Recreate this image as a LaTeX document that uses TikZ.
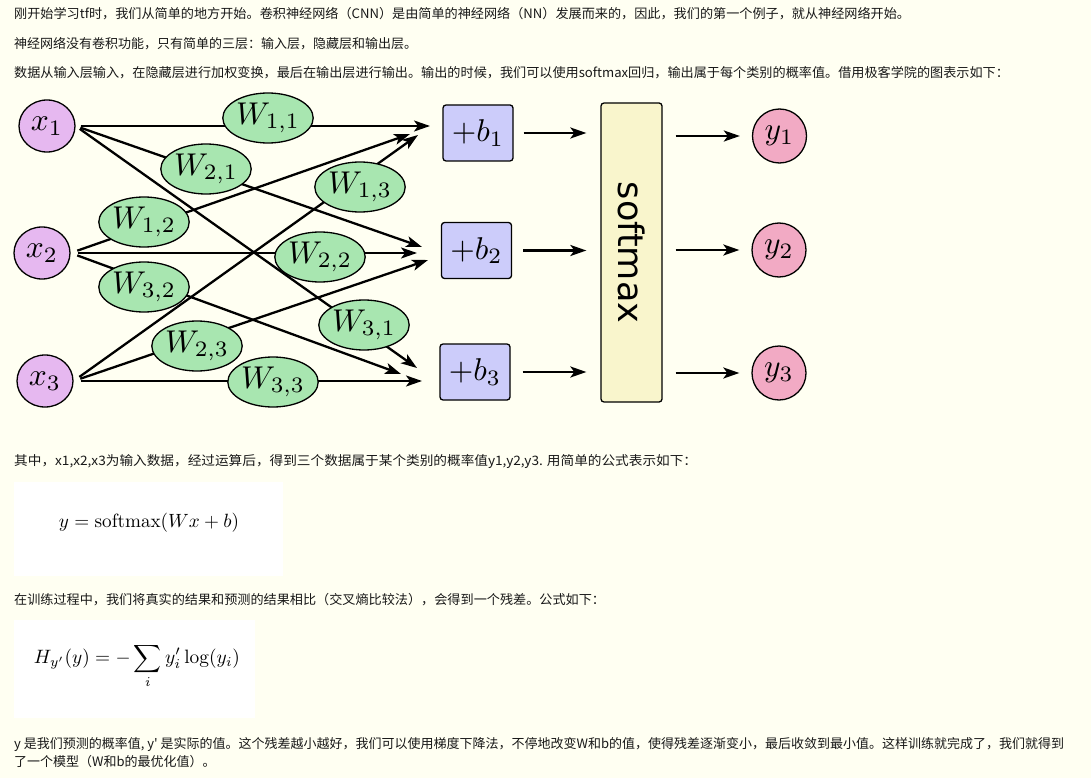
\documentclass[tikz,border=0pt]{standalone}
\usepackage{amsmath}
\usepackage{fontspec}
\usetikzlibrary{arrows.meta,shapes.geometric}
\newfontfamily\cjk{Noto Sans CJK SC}
\newfontfamily\dejavu{DejaVu Sans}
\newcommand{\mlbl}[1]{\scalebox{3.15}{$#1$}}
\definecolor{bg}{RGB}{255,255,242}
\definecolor{xfill}{RGB}{230,184,240}
\definecolor{wfill}{RGB}{168,230,176}
\definecolor{bfill}{RGB}{204,204,250}
\definecolor{sfill}{RGB}{249,245,204}
\definecolor{yfill}{RGB}{242,170,196}
\definecolor{txt}{RGB}{24,24,24}
\tikzset{
  txtline/.style={anchor=west, inner sep=0pt, text=txt, font=\cjk\fontsize{13}{15}\selectfont},
  xnode/.style={ellipse, draw, line width=1.3pt, fill=xfill, minimum width=56pt, minimum height=52pt, inner sep=0pt},
  wnode/.style={ellipse, draw, line width=1.3pt, fill=wfill, minimum width=74pt, minimum height=50pt, inner sep=0pt},
  bnode/.style={rectangle, rounded corners=3pt, draw, line width=1.3pt, fill=bfill, minimum width=70pt, minimum height=56pt, inner sep=0pt},
  snode/.style={rectangle, rounded corners=3pt, draw, line width=1.3pt, fill=sfill, minimum width=61pt, minimum height=299pt, inner sep=0pt},
  ynode/.style={circle, draw, line width=1.3pt, fill=yfill, minimum size=54pt, inner sep=0pt},
  arr/.style={-{Stealth[length=16pt,width=11pt,inset=4pt]}, line width=2.3pt},
  fbox/.style={fill=white, draw=none}
}
\begin{document}
\begin{tikzpicture}[x=1pt,y=-1pt]
\fill[bg] (0,0) rectangle (1091,778);
\useasboundingbox (0,0) rectangle (1091,778);

% text lines
\node[txtline] (l1) at (14,14) {\scalebox{1.01}[1]{刚开始学习tf时，我们从简单的地方开始。卷积神经网络（CNN）是由简单的神经网络（NN）发展而来的，因此，我们的第一个例子，就从神经网络开始。}};
\node[txtline] (l2) at (14,44) {神经网络没有卷积功能，只有简单的三层：输入层，隐藏层和输出层。};
\node[txtline] (l3) at (14,73) {\scalebox{1.01}[1]{数据从输入层输入，在隐藏层进行加权变换，最后在输出层进行输出。输出的时候，我们可以使用softmax回归，输出属于每个类别的概率值。借用极客学院的图表示如下：}};
\node[txtline] (l4) at (14,462) {\scalebox{1.05}[1]{其中，x1,x2,x3为输入数据，经过运算后，得到三个数据属于某个类别的概率值y1,y2,y3. 用简单的公式表示如下：}};
\node[txtline] (l5) at (14,600) {\scalebox{1.01}[1]{在训练过程中，我们将真实的结果和预测的结果相比（交叉熵比较法），会得到一个残差。公式如下：}};
\node[txtline] (l6) at (14,744) {y 是我们预测的概率值, y' 是实际的值。这个残差越小越好，我们可以使用梯度下降法，不停地改变W和b的值，使得残差逐渐变小，最后收敛到最小值。这样训练就完成了，我们就得到};
\node[txtline] (l7) at (14,762) {了一个模型（W和b的最优化值）。};

% formula boxes
\fill[fbox] (14,482) rectangle (283,576);
\node[inner sep=0pt] (f1) at (149,523) {\resizebox{180pt}{!}{$y = \mathrm{softmax}(Wx+b)$}};
\fill[fbox] (14,620) rectangle (255,718);
\node[inner sep=0pt] (f2) at (137,666) {\resizebox{206pt}{!}{$\displaystyle H_{y'}(y) = -\sum_i y'_i \log(y_i)$}};

% input nodes
\node[xnode] (x1) at (47,126) {\mlbl{x_1}};
\node[xnode] (x2) at (42,253) {\mlbl{x_2}};
\node[xnode] (x3) at (45,381) {\mlbl{x_3}};

% bias nodes
\node[bnode] (b1) at (478,133) {\mlbl{+b_1}};
\node[bnode] (b2) at (476.5,250.5) {\mlbl{+b_2}};
\node[bnode] (b3) at (475,372) {\mlbl{+b_3}};

% softmax
\node[snode] (sm) at (631.5,252.5) {};
\node[rotate=-90, inner sep=0pt, font=\dejavu\fontsize{35}{40}\selectfont] (smt) at (sm.center) {softmax};

% outputs
\node[ynode] (y1) at (779.5,136) {\mlbl{y_1}};
\node[ynode] (y2) at (779,250) {\mlbl{y_2}};
\node[ynode] (y3) at (779,373) {\mlbl{y_3}};

% arrow tips near bias boxes
\coordinate (t11) at (430,126);
\coordinate (t12) at (422,247);
\coordinate (t13) at (417,368);
\coordinate (t21) at (410,134);
\coordinate (t22) at (417,253);
\coordinate (t23) at (401,374);
\coordinate (t31) at (418,135);
\coordinate (t32) at (428,260);
\coordinate (t33) at (422,381);

\draw[arr, shorten <=5pt] (x1.east) -- (t11);
\draw[arr, shorten <=5pt] (x1.east) -- (t12);
\draw[arr, shorten <=5pt] (x1.east) -- (t13);
\draw[arr, shorten <=7pt] (x2.east) -- (t21);
\draw[arr, shorten <=7pt] (x2.east) -- (t22);
\draw[arr, shorten <=7pt] (x2.east) -- (t23);
\draw[arr, shorten <=7pt] (x3.east) -- (t31);
\draw[arr, shorten <=7pt] (x3.east) -- (t32);
\draw[arr, shorten <=7pt] (x3.east) -- (t33);

% weights
\node[wnode] (w11) at (268,118) {\mlbl{W_{1,1}}};
\node[wnode] (w21) at (206,169) {\mlbl{W_{2,1}}};
\node[wnode] (w13) at (360,187) {\mlbl{W_{1,3}}};
\node[wnode] (w12) at (144,222) {\mlbl{W_{1,2}}};
\node[wnode] (w22) at (320,257) {\mlbl{W_{2,2}}};
\node[wnode] (w32) at (144,287) {\mlbl{W_{3,2}}};
\node[wnode] (w31) at (364,325) {\mlbl{W_{3,1}}};
\node[wnode] (w23) at (197,346) {\mlbl{W_{2,3}}};
\node[wnode] (w33) at (273,382) {\mlbl{W_{3,3}}};

% bias -> softmax -> outputs
\draw[arr, shorten <=10pt, shorten >=14pt] (b1.east) -- (sm.west |- b1.east);
\draw[arr, shorten <=11pt, shorten >=14pt] (b2.east) -- (sm.west |- b2.east);
\draw[arr, shorten <=12pt, shorten >=14pt] (b3.east) -- (sm.west |- b3.east);
\draw[arr, shorten <=13pt, shorten >=12pt] (sm.east |- y1.west) -- (y1.west);
\draw[arr, shorten <=13pt, shorten >=12pt] (sm.east |- y2.west) -- (y2.west);
\draw[arr, shorten <=13pt, shorten >=12pt] (sm.east |- y3.west) -- (y3.west);
\end{tikzpicture}
\end{document}
